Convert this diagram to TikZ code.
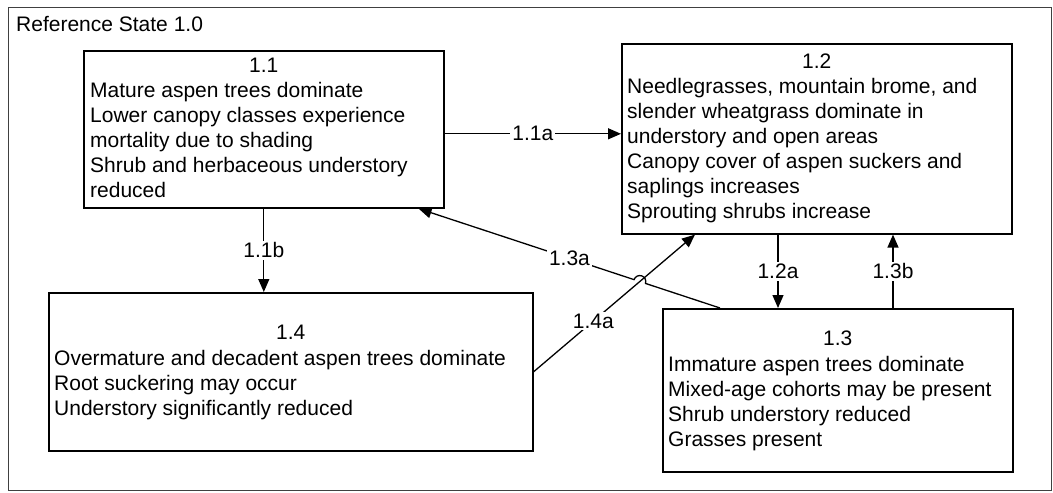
\documentclass[tikz,border=0pt]{standalone}
\usepackage{fontspec}
\setmainfont{Liberation Sans}
\usetikzlibrary{arrows.meta,calc}

\tikzset{
  statebox/.style={draw, line width=1.6pt, inner sep=0pt, anchor=north west},
  boxtext/.style={align=left, inner sep=0pt, anchor=base west},
  boxtitle/.style={inner sep=0pt, anchor=base},
  arr/.style={line width=1.3pt, -{Triangle[length=13pt,width=11pt]}},
  tlabel/.style={fill=white, inner sep=2pt}
}

\begin{document}
\begin{tikzpicture}[x=1pt,y=-1pt,font=\fontsize{21}{25}\selectfont]
    \useasboundingbox (0,0) rectangle (1053,493);
    \node[draw=black!75, line width=1.1pt, inner sep=0pt, anchor=north west,
          minimum width=1043pt, minimum height=483pt] (frame) at (8,7) {};
    \node[inner sep=0pt, anchor=base west] (reftitle) at (16,31) {Reference State 1.0};

    \node[statebox, minimum width=360pt, minimum height=157pt] (s11) at (83,50) {};
    \node[statebox, minimum width=390pt, minimum height=190pt] (s12) at (621,43) {};
    \node[statebox, minimum width=350pt, minimum height=163pt] (s13) at (662,308) {};
    \node[statebox, minimum width=484pt, minimum height=158pt] (s14) at (48,292) {};

    \node[boxtitle] (h11) at ($(s11.north)+(0,22)$) {1.1};
    \node[boxtitle] (h12) at ($(s12.north)+(0,25)$) {1.2};
    \node[boxtitle] (h13) at ($(s13.north)+(0,37)$) {1.3};
    \node[boxtitle] (h14) at ($(s14.north)+(0,47)$) {1.4};

    % base of a multi-line node is its last line
    \node[boxtext] (t11) at (90,197) {Mature aspen trees dominate\\Lower canopy classes experience\\mortality due to shading\\Shrub and herbaceous understory\\reduced};
    \node[boxtext] (t12) at (627,218) {Needlegrasses, mountain brome, and\\slender wheatgrass dominate in\\understory and open areas\\Canopy cover of aspen suckers and\\saplings increases\\Sprouting shrubs increase};
    \node[boxtext] (t13) at (668,446) {Immature aspen trees dominate\\Mixed-age cohorts may be present\\Shrub understory reduced\\Grasses present};
    \node[boxtext] (t14) at (54,415) {Overmature and decadent aspen trees dominate\\Root suckering may occur\\Understory significantly reduced};

    \draw[arr] ([yshift=-4.5pt]s11.east) -- ([yshift=-4.5pt]s11.east -| s12.west) node[tlabel, midway] (l11a) {1.1a};
    \draw[arr] (s11.south) -- (s11.south |- s14.north) node[tlabel, midway] (l11b) {1.1b};

    \coordinate (a12) at ([xshift=157pt]s12.south west);
    \draw[arr] (a12) -- (a12 |- s13.north) node[tlabel, midway] (l12a) {1.2a};
    \coordinate (b13) at ([xshift=231pt]s13.north west);
    \draw[arr] (b13) -- (b13 |- s12.south) node[tlabel, midway] (l13b) {1.3b};

    \coordinate (c12) at ([xshift=74pt]s12.south west);
    \draw[arr] (s14.east) -- (c12) node[tlabel, pos=0.37] (l14a) {1.4a};

    \coordinate (a13) at ([xshift=58pt]s13.north west);
    \coordinate (a11) at ([xshift=-26pt]s11.south east);
    \coordinate (hop) at (intersection of a13--a11 and s14.east--c12);
    \draw[arr] (a13) -- ($(hop)!6pt!(a13)$) arc[start angle=-18.4, end angle=161.6, radius=6pt]
        -- (a11) node[tlabel, pos=0.3] (l13a) {1.3a};
\end{tikzpicture}
\end{document}
